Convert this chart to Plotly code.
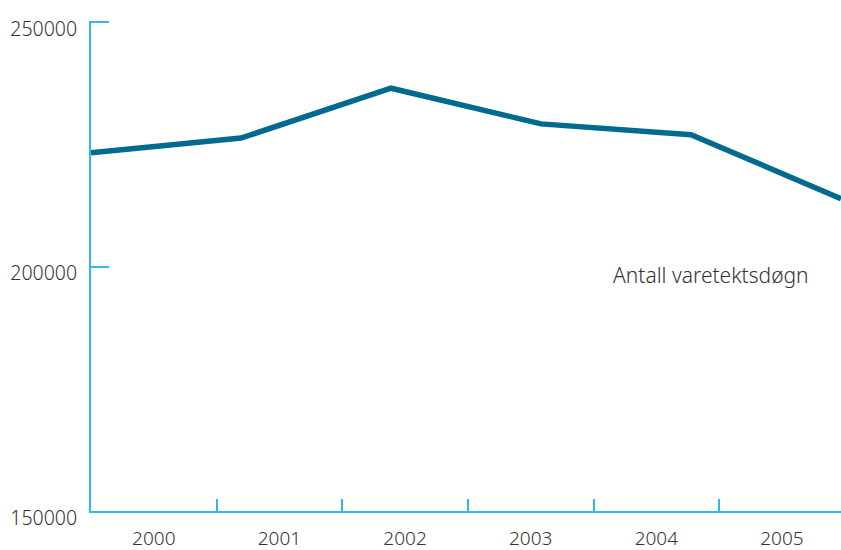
import plotly.graph_objects as go

years = [2000, 2001, 2002, 2003, 2004, 2005]
year_labels = ["2000", "2001", "2002", "2003", "2004", "2005"]
varetektsdogn = [223300, 226300, 236500, 229200, 227000, 213900]
y_ticks = [150000, 200000, 250000]

axis_color = "#33b8ea"
line_color = "#006b8f"
text_color = "#333333"
font_family = "Noto Sans, Open Sans, sans-serif"

fig = go.Figure()

# selve linja, på en lineær akse fra 2000 til 2005
fig.add_trace(go.Scatter(
    x=years,
    y=varetektsdogn,
    mode="lines",
    line=dict(color=line_color, width=5.5),
    hoverinfo="skip",
    showlegend=False,
    cliponaxis=False,
))

# usynlig spor for kategoriaksen med årstall
fig.add_trace(go.Scatter(
    x=year_labels,
    y=[None] * len(year_labels),
    xaxis="x2",
    mode="markers",
    showlegend=False,
    hoverinfo="skip",
))

fig.add_annotation(
    x=2004.13, y=198300, xref="x", yref="y",
    text="Antall varetektsdøgn",
    showarrow=False,
    font=dict(size=21, color=text_color, family=font_family, weight=300),
)

fig.update_layout(
    width=841, height=550,
    margin=dict(l=91, r=0, t=21, b=39),
    paper_bgcolor="white",
    plot_bgcolor="white",
    font=dict(family=font_family, size=19, color=text_color, weight=300),
    xaxis=dict(
        range=[2000, 2005],
        showticklabels=False,
        showgrid=False,
        zeroline=False,
        showline=False,
        ticks="",
        automargin=False,
    ),
    xaxis2=dict(
        type="category",
        overlaying="x",
        side="bottom",
        range=[-0.5, 5.47],
        tickson="boundaries",
        ticks="inside",
        ticklen=12,
        tickwidth=2,
        tickcolor=axis_color,
        showline=True,
        linecolor=axis_color,
        linewidth=2,
        showgrid=False,
        zeroline=False,
        automargin=False,
        ticklabelstandoff=9,
        tickfont=dict(size=19, color=text_color, weight=300),
    ),
    yaxis=dict(
        range=[150000, 250250],
        tickvals=y_ticks,
        ticktext=[str(v) for v in y_ticks],
        ticks="inside",
        ticklen=18,
        tickwidth=2,
        tickcolor=axis_color,
        showline=True,
        linecolor=axis_color,
        linewidth=2,
        showgrid=False,
        zeroline=False,
        automargin=False,
        ticklabelshift=7,
        ticklabelstandoff=8,
        tickfont=dict(size=19.5, color=text_color, weight=300),
    ),
)

fig.write_html(
    "out.html",
    config={"displayModeBar": False},
    post_script="document.body.style.margin='0';",
)
